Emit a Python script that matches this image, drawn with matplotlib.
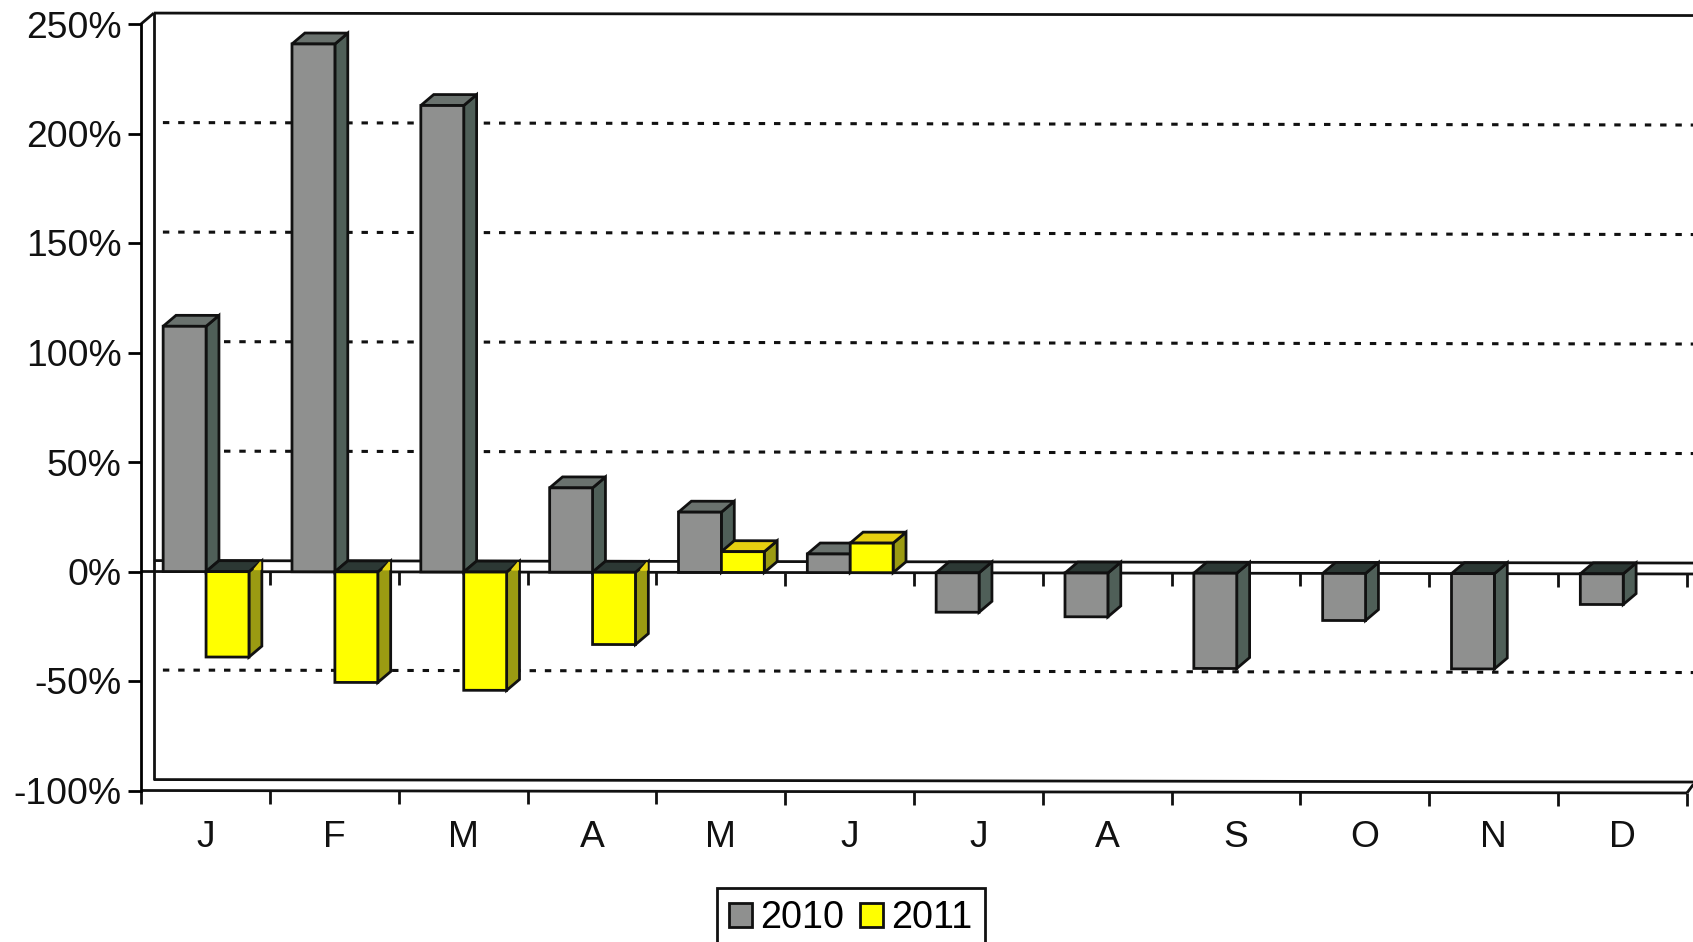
import matplotlib.pyplot as plt
from matplotlib.patches import Patch, Polygon
from matplotlib.transforms import Affine2D

plt.rcParams["font.family"] = ["Liberation Sans", "DejaVu Sans"]

months = ["J", "F", "M", "A", "M", "J", "J", "A", "S", "O", "N", "D"]
values_2010 = [112, 241, 213, 38.5, 27.5, 8.5, -18, -20, -43.5, -21.5, -43.5, -14]
values_2011 = [-39, -50.5, -54, -33, 9.5, 13.5]
y_ticks = [-100, -50, 0, 50, 100, 150, 200, 250]
grid_levels = [-50, 50, 100, 150, 200]

W, H = 1693, 942
LEFT, RIGHT, TOP, BOTTOM = 141, 1687, 24, 790.5
DX, DY = 0.1, 5
BAR_W = 0.333
LW = 2.0
FONT = 26.8

GRAY = dict(front="#8f908f", side="#4f5f58", top="#6a726e", under="#2c3834")
YELLOW = dict(front="#ffff00", side="#9b9b12", top="#e6cf10", under="#2c3834")

fig = plt.figure(figsize=(W / 100, H / 100), dpi=100)
ax = fig.add_axes([LEFT / W, 1 - BOTTOM / H, (RIGHT - LEFT) / W, (BOTTOM - TOP) / H])
ax.set_xlim(0, 12)
ax.set_ylim(-100, 250)

# scanned page is very slightly rotated
tilt = ax.transData + Affine2D.from_values(1, -0.0016, 0, 1, 0, 0.0016 * LEFT)


def line(xs, ys, **kw):
    kw.setdefault("color", "#111111")
    kw.setdefault("lw", LW)
    ax.plot(xs, ys, transform=tilt, clip_on=False, solid_capstyle="butt", **kw)


def face(pts, color, z):
    ax.add_patch(Polygon(pts, closed=True, facecolor=color, edgecolor="#111111",
                         lw=LW, joinstyle="miter", transform=tilt, clip_on=False, zorder=z))


def bar3d(x0, v, colors, z):
    x1 = x0 + BAR_W
    face([(x0, v), (x1, v), (x1, 0), (x0, 0)], colors["front"], z + 0.2)
    face([(x1, v), (x1 + DX, v + DY), (x1 + DX, DY), (x1, 0)], colors["side"], z)
    if v >= 0:
        face([(x0, v), (x1, v), (x1 + DX, v + DY), (x0 + DX, v + DY)], colors["top"], z + 0.1)
    else:
        face([(x0, 0), (x1, 0), (x1 + DX, DY), (x0 + DX, DY)], colors["under"], z + 0.1)
        if colors is YELLOW:
            ax.fill([x1 + 0.04, x1 + DX - 0.01, x1 + DX - 0.01], [1, 1, 4.5],
                    color="#e6d510", transform=tilt, clip_on=False, zorder=z + 0.15)


# back wall and floor
line([DX, 12.06], [250 + DY] * 2, zorder=1)
line([DX, DX], [-100 + DY, 250 + DY], zorder=1)
line([0, DX], [250, 250 + DY], zorder=1)
line([DX, 12.06], [-100 + DY] * 2, zorder=1)
line([12, 12.05], [-100, -100 + 4], zorder=1)
line([0, 12], [-100, -100], zorder=1)

# dashed grid on the back wall, solid plane at zero
for level in grid_levels:
    line([DX + 0.07, 12.06], [level + DY] * 2, ls=(0, (2.1, 2.9)), lw=2.2, zorder=1)
line([DX, 12.06], [DY, DY], zorder=1.5)
line([0, 12.06], [0, 0], zorder=1.5)

# tick marks on the zero line and under the floor
for i in range(13):
    line([i, i], [-100, -106], zorder=1)
    if i > 0:
        line([i, i], [0, -6], zorder=1)

for i, v in enumerate(values_2010):
    bar3d(i + 0.172, v, GRAY, 3 + i)
for i, v in enumerate(values_2011):
    bar3d(i + 0.505, v, YELLOW, 3.5 + i)

for s in ["top", "right", "bottom"]:
    ax.spines[s].set_visible(False)
ax.spines["left"].set_linewidth(LW)

ax.set_yticks(y_ticks)
ax.set_yticklabels([f"{t}%" for t in y_ticks], fontsize=FONT, color="#111111")
ax.tick_params(axis="y", length=9.5, width=LW, pad=4.5)
ax.set_xticks([i + 0.5 for i in range(12)])
ax.set_xticklabels(months, fontsize=FONT, color="#111111")
ax.tick_params(axis="x", length=0, pad=21.5)

handles = [Patch(facecolor=GRAY["front"], edgecolor="#111111", lw=LW, label="2010"),
           Patch(facecolor=YELLOW["front"], edgecolor="#111111", lw=LW, label="2011")]
leg = ax.legend(handles=handles, ncols=2, fontsize=27.2, loc="upper left",
                bbox_to_anchor=(717 / W, 1 - 888 / H), bbox_transform=fig.transFigure,
                frameon=True, fancybox=False, framealpha=1, edgecolor="#111111",
                borderaxespad=0, borderpad=0.33, handlelength=0.6, handleheight=0.62,
                handletextpad=0.22, columnspacing=0.42)
leg.get_frame().set_linewidth(LW)
leg.set_zorder(50)

fig.savefig("out.png", dpi=100)
